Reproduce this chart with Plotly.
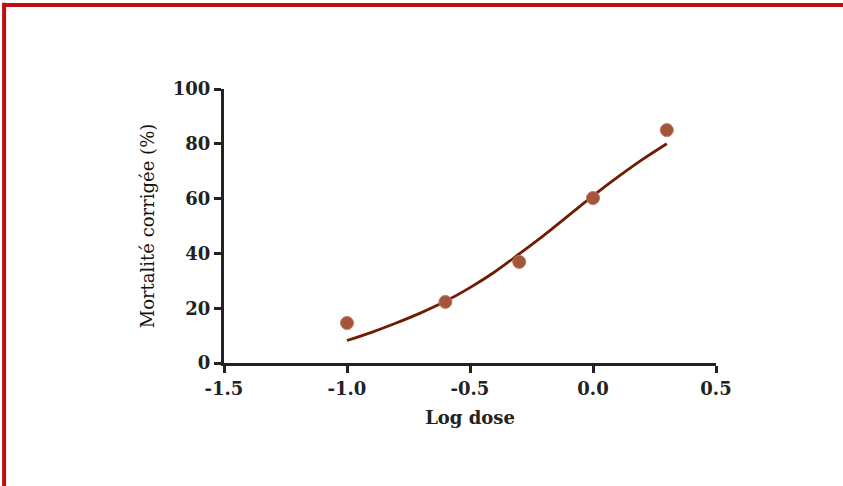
"""Mortalité corrigée vs log dose"""
import plotly.graph_objects as go

# observed points
log_dose = [-1.0, -0.6, -0.3, 0.0, 0.3]
mortality = [14.6, 22.3, 36.9, 60.2, 85.0]

# fitted curve
fit_x = [-1.0, -0.9, -0.8, -0.7, -0.6, -0.5, -0.4, -0.3, -0.2, -0.1, 0.0, 0.1, 0.2, 0.3]
fit_y = [8.2, 11.2, 14.6, 18.3, 22.5, 27.5, 33.2, 39.8, 46.6, 53.8, 61.0, 67.8, 74.2, 80.0]

x_ticks = [-1.5, -1.0, -0.5, 0.0, 0.5]
y_ticks = [0, 20, 40, 60, 80, 100]

fig = go.Figure()

fig.add_trace(go.Scatter(
    x=fit_x, y=fit_y, mode="lines",
    line=dict(color="#6e1c02", width=2.8, shape="spline"),
    hoverinfo="skip"
))

fig.add_trace(go.Scatter(
    x=log_dose, y=mortality, mode="markers",
    marker=dict(color="#a5543c", size=13, line=dict(color="#bd7560", width=1))
))

axis_common = dict(
    showline=True, linecolor="#222222", linewidth=3,
    ticks="outside", ticklen=7, tickwidth=3, tickcolor="#222222",
    showgrid=False, zeroline=False,
    tickfont=dict(family="DejaVu Serif", size=18, color="#222222", weight="bold"),
)

fig.update_xaxes(
    range=[-1.5, 0.5], tickvals=x_ticks, ticktext=[f"{v:.1f}" for v in x_ticks],
    title=dict(text="<b>Log dose</b>", font=dict(family="DejaVu Serif", size=18, color="#222222"),
               standoff=14),
    **axis_common
)
fig.update_yaxes(
    range=[0, 100], tickvals=y_ticks,
    title=dict(text="Mortalité corrigée (%)", font=dict(family="DejaVu Serif", size=18, color="#111111"),
               standoff=14),
    **axis_common
)

# red frame along top and left edges
fig.add_shape(type="line", xref="paper", yref="paper", x0=-0.447, x1=1.26, y0=1.307, y1=1.307,
              line=dict(color="#c40d0d", width=4))
fig.add_shape(type="line", xref="paper", yref="paper", x0=-0.447, x1=-0.447, y0=-0.45, y1=1.315,
              line=dict(color="#c40d0d", width=4))

fig.update_layout(
    width=843, height=486,
    margin=dict(l=224, r=127, t=89, b=123),
    plot_bgcolor="white", paper_bgcolor="white",
    showlegend=False,
)

fig.write_html("out.html", config={"displayModeBar": False},
               post_script="document.body.style.margin='0';")
